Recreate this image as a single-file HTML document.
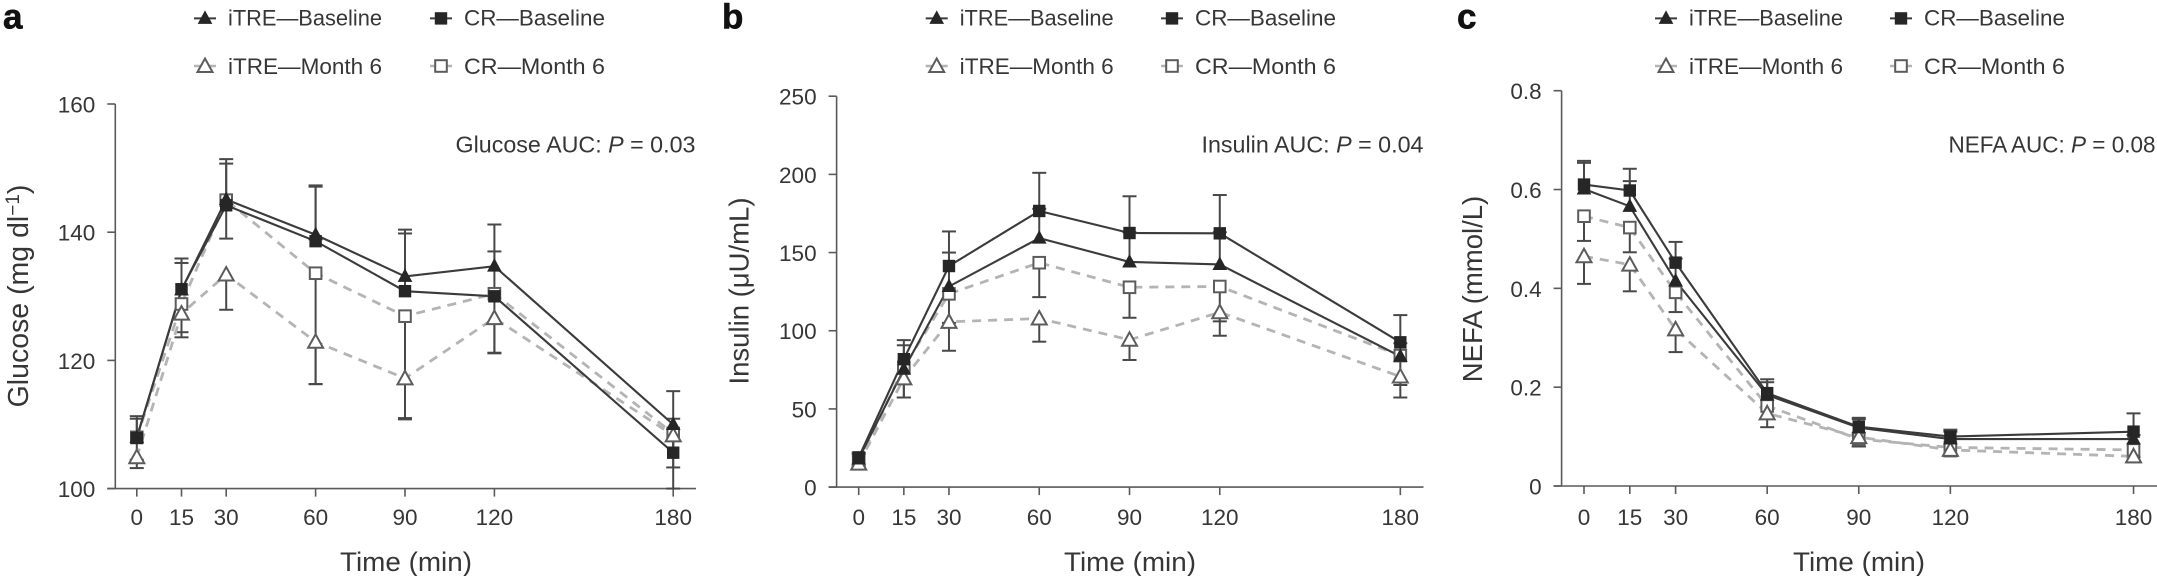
<!DOCTYPE html>
<html lang="en">
<head>
<meta charset="utf-8">
<title>Glucose, insulin and NEFA time courses</title>
<style>
html,body{margin:0;padding:0;background:#fff;}
svg{display:block;}
text{font-family:"Liberation Sans",Arial,sans-serif;fill:#363636;}
</style>
</head>
<body>
<svg id="figure" xmlns="http://www.w3.org/2000/svg" width="2157" height="576" viewBox="0 0 2157 576"></svg>
<script>
// ---- shared categories ----
const timePoints = [0, 15, 30, 60, 90, 120, 180];
const seriesNames = ['iTRE—Baseline', 'CR—Baseline', 'iTRE—Month 6', 'CR—Month 6'];

// ---- panel a: glucose ----
const glucoseTicks = [100, 120, 140, 160];
const glucoseItreBaseline = [108, 131, 145.1, 139.6, 133.1, 134.7, 110];
const glucoseCrBaseline = [107.9, 131.1, 144.2, 138.6, 130.8, 130, 105.6];
const glucoseItreMonth6 = [104.9, 127.3, 133.4, 122.9, 117.2, 126.6, 108.3];
const glucoseCrMonth6 = [108, 128.8, 145, 133.6, 126.9, 130.4, 108.6];
const glucoseItreBaselineUpper = [111.3, 135.9, 151.4, 147.3, 140.4, 141.2, 115.2];
const glucoseCrBaselineUpper = [110.9, 135.2, 150.7, 147.1, 139.8, 137, 110.9];
const glucoseItreMonth6Lower = [103.2, 124.4, 127.9, 116.3, 110.8, 121.2, 103.3];
const glucoseCrMonth6Lower = [104.5, 123.6, 139, 116.3, 111, 121.1, 100];

// ---- panel b: insulin ----
const insulinTicks = [0, 50, 100, 150, 200, 250];
const insulinItreBaseline = [18, 75.4, 128.3, 159.2, 144, 142.4, 83.6];
const insulinCrBaseline = [19, 81.8, 141.4, 176.6, 162.5, 162.3, 92.6];
const insulinItreMonth6 = [15, 69.5, 105.7, 107.8, 94.2, 111.8, 70.7];
const insulinCrMonth6 = [16, 76.6, 123.6, 143.5, 127.8, 128.3, 84.1];
const insulinItreBaselineUpper = [21, 90.7, 150, 178, 163, 163, 92];
const insulinCrBaselineUpper = [22, 94, 163.5, 201, 186, 186.8, 110];
const insulinItreMonth6Lower = [13, 57.3, 87.2, 93, 81.3, 96.8, 57.3];
const insulinCrMonth6Lower = [14, 57.3, 105, 121.5, 108.3, 106, 65.3];

// ---- panel c: NEFA ----
const nefaTicks = [0, 0.2, 0.4, 0.6, 0.8];
const nefaTickLabels = ['0', '0.2', '0.4', '0.6', '0.8'];
const nefaItreBaseline = [0.601, 0.566, 0.415, 0.184, 0.118, 0.095, 0.095];
const nefaCrBaseline = [0.61, 0.598, 0.452, 0.188, 0.12, 0.1, 0.11];
const nefaItreMonth6 = [0.465, 0.448, 0.317, 0.147, 0.099, 0.073, 0.06];
const nefaCrMonth6 = [0.546, 0.523, 0.392, 0.162, 0.095, 0.078, 0.073];
const nefaItreBaselineUpper = [0.654, 0.617, 0.46, 0.21, 0.135, 0.11, 0.103];
const nefaCrBaselineUpper = [0.658, 0.642, 0.494, 0.216, 0.138, 0.114, 0.147];
const nefaItreMonth6Lower = [0.409, 0.394, 0.271, 0.119, 0.08, 0.06, 0.048];
const nefaCrMonth6Lower = [0.496, 0.473, 0.352, 0.136, 0.08, 0.062, 0.058];

const NS = 'http://www.w3.org/2000/svg';
const root = document.getElementById('figure');
const DARK = '#3b3b3b', AXIS = '#5a5a5a', DASH = '#b4b4b4', ERR = '#484848', EDGE = '#5c5c5c';

function mk(parent, tag, attrs, txt) {
  const n = document.createElementNS(NS, tag);
  for (const k in attrs) n.setAttribute(k, attrs[k]);
  if (txt !== undefined) n.textContent = txt;
  parent.appendChild(n);
  return n;
}

function drawMarker(parent, kind, x, y) {
  const filled = kind === 0 || kind === 1;
  const isTriangle = kind === 0 || kind === 2;
  if (isTriangle) {
    const pts = filled
      ? [[x, y - 7], [x + 6.5, y + 5], [x - 6.5, y + 5]].map(p => p.join(',')).join(' ')
      : [[x, y - 7.5], [x + 7.5, y + 6], [x - 7.5, y + 6]].map(p => p.join(',')).join(' ');
    return mk(parent, 'polygon', {points: pts, fill: filled ? '#262626' : '#fff', stroke: filled ? '#262626' : EDGE, 'stroke-width': filled ? 1 : 2});
  }
  const s = filled ? 5.7 : 5.8;
  return mk(parent, 'rect', {x: x - s, y: y - s, width: 2 * s, height: 2 * s, fill: filled ? '#262626' : '#fff', stroke: filled ? '#262626' : EDGE, 'stroke-width': filled ? 1 : 2});
}

function drawPanel(cfg) {
  const sx = t => cfg.x0 + (t - timePoints[0]) * cfg.xPerMin;
  const sy = v => cfg.yBottom - (v - cfg.yMin) / (cfg.yMax - cfg.yMin) * (cfg.yBottom - cfg.yTop);

  const panel = mk(root, 'g', {});
  
  

  const label = mk(panel, 'text', {x: cfg.labelX, y: 28.5, 'font-size': 35, 'font-weight': 700, style: 'fill:#111;stroke:#111;stroke-width:.6'}, cfg.id);
  
  

  // legend
  const legend = mk(panel, 'g', {});
  
  
  seriesNames.forEach((nm, k) => {
    const col = k % 2;
    const row = k < 2 ? 0 : 1;
    const cy = row === 0 ? 18.4 : 66;
    const mx = cfg.legendX[col];
    const entry = mk(legend, 'g', {});
    
    
    mk(entry, 'line', {x1: mx - 11, x2: mx + 11, y1: cy, y2: cy, stroke: row === 0 ? DARK : DASH, 'stroke-width': row === 0 ? 2 : 2.5});
    drawMarker(entry, k, mx, cy);
    mk(entry, 'text', {x: mx + 23, y: row === 0 ? 25.7 : 74, 'font-size': 22, textLength: col === 0 ? 154 : 141, lengthAdjust: 'spacingAndGlyphs'}, nm);
  });

  // axes
  const yAxis = mk(panel, 'g', {});
  
  
  mk(yAxis, 'line', {x1: cfg.axisX, x2: cfg.axisX, y1: cfg.yTop, y2: cfg.yBottom, stroke: AXIS, 'stroke-width': 1.6});
  cfg.ticks.forEach((v, i) => {
    mk(yAxis, 'line', {x1: cfg.axisX - 8, x2: cfg.axisX, y1: sy(v), y2: sy(v), stroke: AXIS, 'stroke-width': 1.6});
    const tl = mk(yAxis, 'text', {x: cfg.axisX - 20, y: sy(v) + 8.5, 'font-size': 22.5, 'text-anchor': 'end'}, cfg.tickLabels ? cfg.tickLabels[i] : String(v));
    
    
  });
  const xAxis = mk(panel, 'g', {});
  
  
  mk(xAxis, 'line', {x1: cfg.axisX - 8, x2: cfg.xEnd, y1: cfg.yBottom, y2: cfg.yBottom, stroke: AXIS, 'stroke-width': 1.6});
  timePoints.forEach(t => {
    mk(xAxis, 'line', {x1: sx(t), x2: sx(t), y1: cfg.yBottom, y2: cfg.yBottom + 8, stroke: AXIS, 'stroke-width': 1.6});
    const tl = mk(xAxis, 'text', {x: sx(t), y: 525, 'font-size': 22.5, 'text-anchor': 'middle'}, String(t));
    
    
  });
  const xTitle = mk(panel, 'text', {x: cfg.xTitleX, y: 571, 'font-size': 26.5, 'text-anchor': 'middle', textLength: 132, lengthAdjust: 'spacingAndGlyphs'}, 'Time (min)');
  
  

  const yTitle = mk(panel, 'text', {transform: 'translate(' + cfg.yTitleX + ',' + cfg.yTitleY + ') rotate(-90)', 'font-size': cfg.yTitleSize, 'text-anchor': 'middle'});
  
  
  mk(yTitle, 'tspan', {}, cfg.yTitle);
  if (cfg.yTitleSup) {
    mk(yTitle, 'tspan', {dy: -9, 'font-size': 19}, cfg.yTitleSup);
    mk(yTitle, 'tspan', {dy: 9}, ')');
  }

  const auc = mk(panel, 'text', {x: cfg.aucRight, y: 152.5, 'font-size': 23, 'text-anchor': 'end', textLength: cfg.aucWidth, lengthAdjust: 'spacingAndGlyphs'});
  
  
  mk(auc, 'tspan', {}, cfg.aucName + ' AUC: ');
  mk(auc, 'tspan', {'font-style': 'italic'}, 'P');
  mk(auc, 'tspan', {}, ' = ' + cfg.aucP);

  // error bars
  cfg.series.forEach((vals, k) => {
    const bars = mk(panel, 'g', {});
    
    
    vals.forEach((v, i) => {
      const x = sx(timePoints[i]), y = sy(v), e = sy(cfg.errors[k][i]);
      mk(bars, 'line', {x1: x, x2: x, y1: y, y2: e, stroke: ERR, 'stroke-width': 2});
      mk(bars, 'line', {x1: x - 7, x2: x + 7, y1: e, y2: e, stroke: ERR, 'stroke-width': 2});
    });
  });

  // lines: month-6 (dashed) beneath baseline (solid)
  [2, 3, 0, 1].forEach(k => {
    const d = cfg.series[k].map((v, i) => (i ? 'L' : 'M') + sx(timePoints[i]).toFixed(2) + ' ' + sy(v).toFixed(2)).join(' ');
    const attrs = k < 2
      ? {d: d, fill: 'none', stroke: DARK, 'stroke-width': 2.1}
      : {d: d, fill: 'none', stroke: DASH, 'stroke-width': 2.8, 'stroke-dasharray': '9 7'};
    const line = mk(panel, 'path', attrs);
    
    
  });

  // markers
  [3, 2, 0, 1].forEach(k => {
    const g = mk(panel, 'g', {});
    
    
    cfg.series[k].forEach((v, i) => {
      const m = drawMarker(g, k, sx(timePoints[i]), sy(v));
      
      
    });
  });
}

drawPanel({
  id: 'a', labelX: 3, x0: 136.8, xPerMin: 2.98, axisX: 115.3, xEnd: 696,
  yMin: 100, yMax: 160, yTop: 104, yBottom: 488.6, ticks: glucoseTicks,
  legendX: [205, 441], xTitleX: 406, yTitleX: 28, yTitleY: 296, yTitleSize: 28.5,
  yTitle: 'Glucose (mg dl', yTitleSup: '−1',
  aucRight: 695.5, aucWidth: 240, aucName: 'Glucose', aucP: '0.03',
  series: [glucoseItreBaseline, glucoseCrBaseline, glucoseItreMonth6, glucoseCrMonth6],
  errors: [glucoseItreBaselineUpper, glucoseCrBaselineUpper, glucoseItreMonth6Lower, glucoseCrMonth6Lower]
});
drawPanel({
  id: 'b', labelX: 722, x0: 858.7, xPerMin: 3.009, axisX: 836.6, xEnd: 1423.5,
  yMin: 0, yMax: 250, yTop: 96.2, yBottom: 487.1, ticks: insulinTicks,
  legendX: [936.7, 1172], xTitleX: 1130, yTitleX: 748.5, yTitleY: 291, yTitleSize: 27.5,
  yTitle: 'Insulin (μU/mL)',
  aucRight: 1423.5, aucWidth: 222, aucName: 'Insulin', aucP: '0.04',
  series: [insulinItreBaseline, insulinCrBaseline, insulinItreMonth6, insulinCrMonth6],
  errors: [insulinItreBaselineUpper, insulinCrBaselineUpper, insulinItreMonth6Lower, insulinCrMonth6Lower]
});
drawPanel({
  id: 'c', labelX: 1457, x0: 1584, xPerMin: 3.053, axisX: 1561.6, xEnd: 2157,
  yMin: 0, yMax: 0.8, yTop: 90.7, yBottom: 486, ticks: nefaTicks, tickLabels: nefaTickLabels,
  legendX: [1666, 1901], xTitleX: 1859, yTitleX: 1482, yTitleY: 289, yTitleSize: 27.5,
  yTitle: 'NEFA (mmol/L)',
  aucRight: 2155.5, aucWidth: 207, aucName: 'NEFA', aucP: '0.08',
  series: [nefaItreBaseline, nefaCrBaseline, nefaItreMonth6, nefaCrMonth6],
  errors: [nefaItreBaselineUpper, nefaCrBaselineUpper, nefaItreMonth6Lower, nefaCrMonth6Lower]
});
</script>
</body>
</html>
